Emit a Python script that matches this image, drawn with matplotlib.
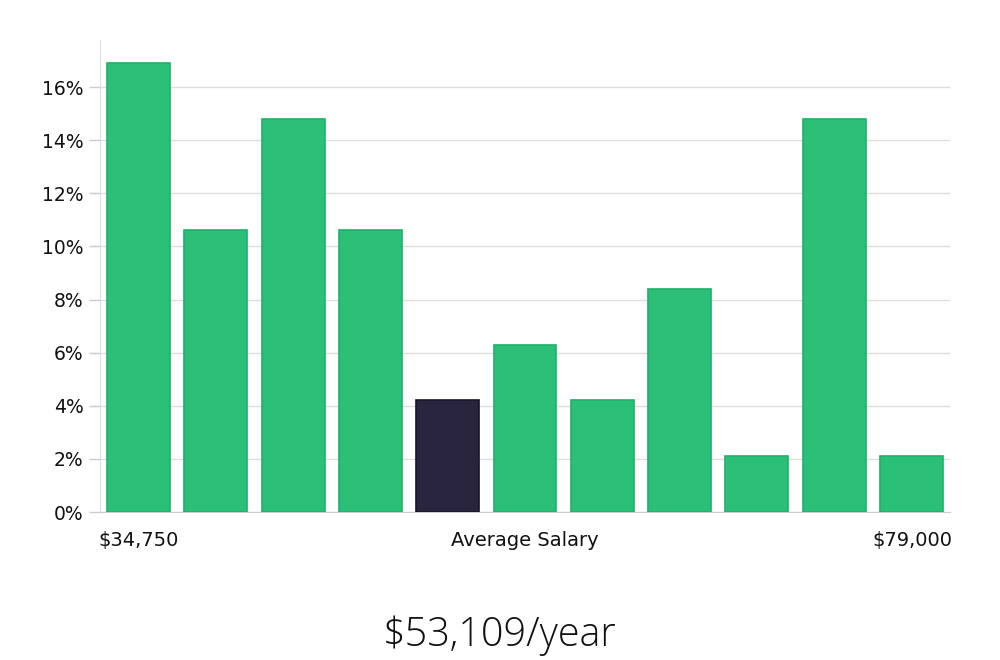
import matplotlib
matplotlib.use("Agg")
import matplotlib.pyplot as plt
import numpy as np

# salary distribution (share of salaries per bucket, %)
shares = [16.9, 10.6, 14.8, 10.6, 4.2, 6.3, 4.2, 8.4, 2.1, 14.8, 2.1]
highlight = 4   # bucket with the average salary
low_label = "$34,750"
mid_label = "Average Salary"
high_label = "$79,000"
title = "$53,109/year"
yticks = [0, 2, 4, 6, 8, 10, 12, 14, 16]

GREEN = "#2bbf78"
GREEN_EDGE = "#1db26b"
DARK = "#29253f"
DARK_EDGE = "#16142a"

fig = plt.figure(figsize=(10, 6.6), dpi=100)
ax = fig.add_axes([0.1, 1 - 512 / 660, 0.85, (512 - 40) / 660])

x = np.arange(len(shares))
colors = [DARK if i == highlight else GREEN for i in x]
edges = [DARK_EDGE if i == highlight else GREEN_EDGE for i in x]
ax.bar(x, shares, width=0.815, color=colors, edgecolor=edges, linewidth=1.2, zorder=3)

ax.set_xlim(-0.5, len(shares) - 0.5)
ax.set_ylim(0, 17.77)
ax.set_yticks(yticks)
ax.set_yticklabels([f"{t}%" for t in yticks], fontsize=13.5, color="#111111")
ax.set_xticks([])
ax.tick_params(axis="y", length=8, width=1, color="#cccccc", pad=4)
ax.grid(axis="y", color="#dddddd", linewidth=1, zorder=0)

for s in ["top", "right"]:
    ax.spines[s].set_visible(False)
ax.spines["left"].set_color("#dddddd")
ax.spines["bottom"].set_color("#cccccc")

ax.text(-0.002, -0.06, low_label, transform=ax.transAxes, ha="left", va="center",
        fontsize=14, color="#111111")
ax.text(0.5, -0.06, mid_label, transform=ax.transAxes, ha="center", va="center",
        fontsize=14, color="#111111")
ax.text(1.003, -0.06, high_label, transform=ax.transAxes, ha="right", va="center",
        fontsize=14, color="#111111")

fig.text(0.5, 1 - 635 / 660, title, ha="center", va="center", fontsize=28.5,
         family="Open Sans", fontweight="light", color="#111111")

fig.savefig("out.png", dpi=100, facecolor="white")
